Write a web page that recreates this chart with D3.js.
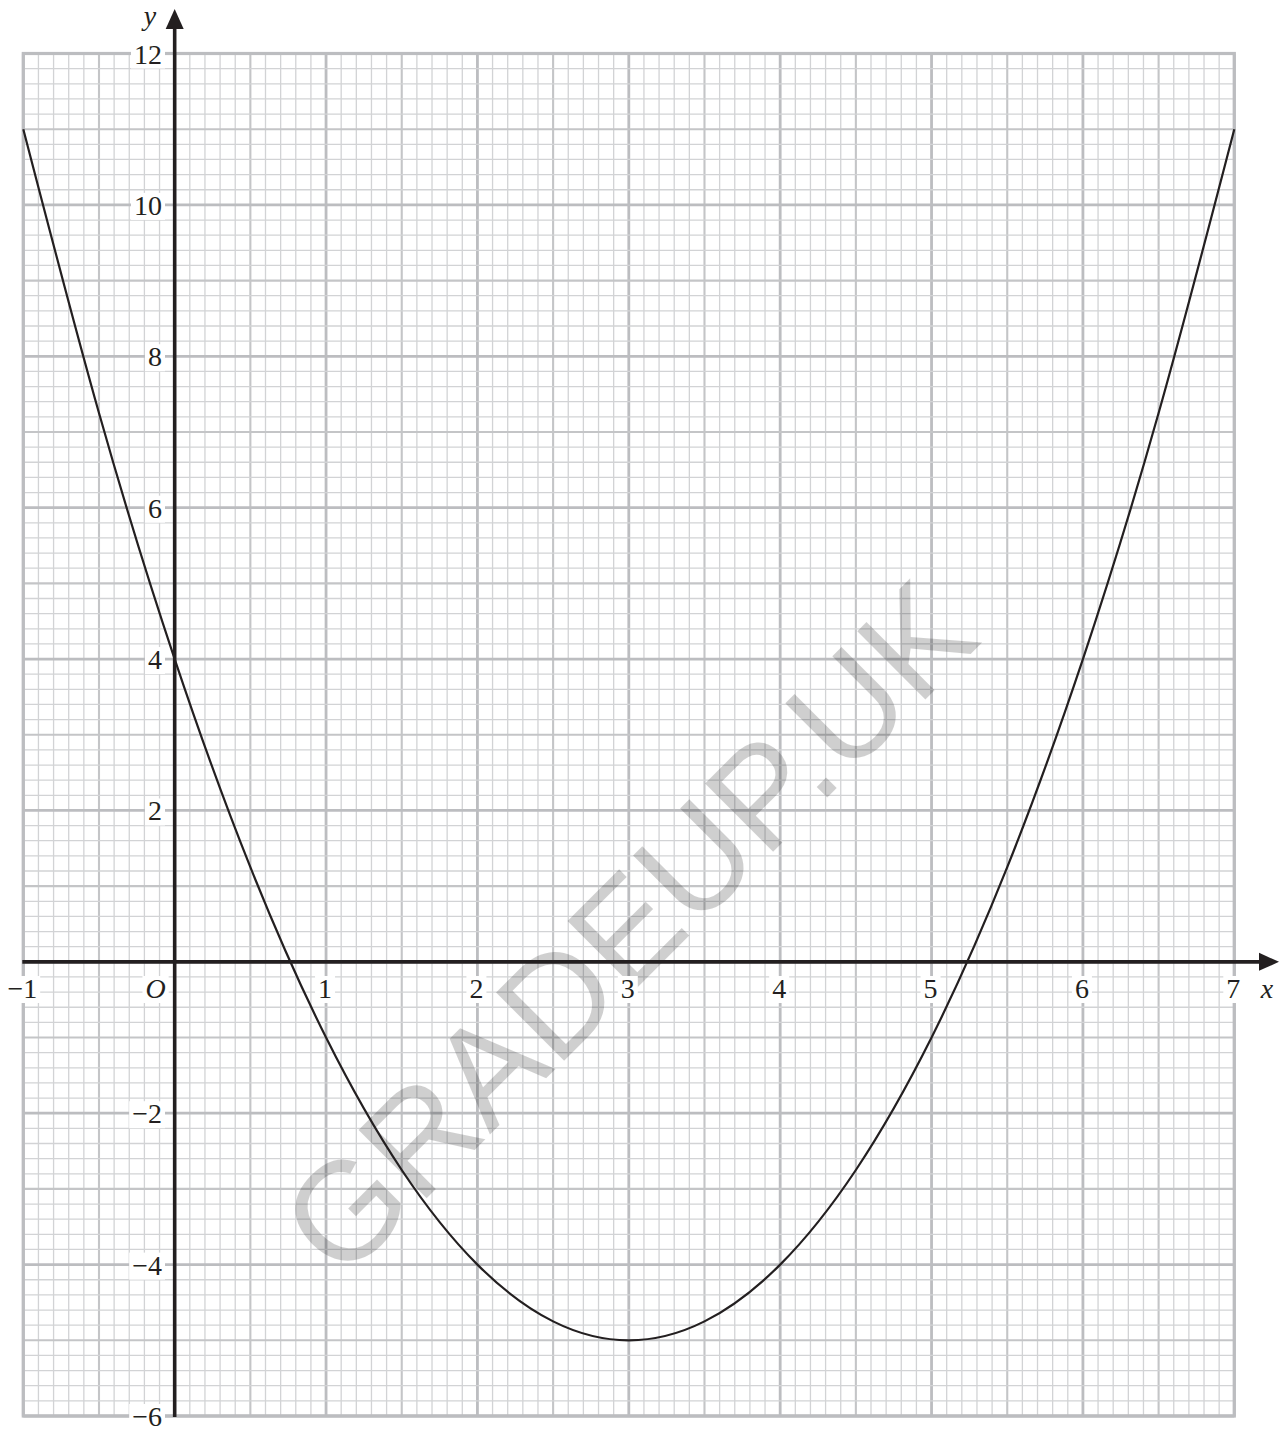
<!DOCTYPE html>
<html>
<head>
<meta charset="utf-8">
<script src="https://cdn.jsdelivr.net/npm/d3@7"></script>
<style>
  body { margin: 0; background: #fff; }
</style>
</head>
<body>
<div id="chart"></div>
<script>
// values
const curveX = [-1, -0.5, 0, 0.5, 1, 1.5, 2, 2.5, 3, 3.5, 4, 4.5, 5, 5.5, 6, 6.5, 7]
const curveY = [11, 7.25, 4, 1.25, -1, -2.75, -4, -4.75, -5, -4.75, -4, -2.75, -1, 1.25, 4, 7.25, 11]
const xTicks = [-1, 0, 1, 2, 3, 4, 5, 6, 7]
const xTickLabels = ["−1", "O", "1", "2", "3", "4", "5", "6", "7"]
const yTicks = [12, 10, 8, 6, 4, 2, -2, -4, -6]
const yTickLabels = ["12", "10", "8", "6", "4", "2", "−2", "−4", "−6"]

const serif = "'Liberation Serif', 'Times New Roman', Times, serif"

let svg = d3.select("#chart")
  .append("svg")
  .attr("width", 1286)
  .attr("height", 1436)

let x = d3.scaleLinear().domain([-1, 7]).range([23.3, 1234.3])
let y = d3.scaleLinear().domain([-6, 12]).range([1416, 53.5])

let grid = svg.append("g")

// graph paper: minor 0.1 in x / 0.2 in y, medium every 5, major every 10
function lineStyle(i) {
  if (i % 10 == 0) return {c: "#bcbdc0", w: 2.8}
  if (i % 5 == 0) return {c: "#c4c5c7", w: 2.1}
  return {c: "#d2d3d5", w: 1.3}
}
let order = d => d % 10 == 0 ? 2 : (d % 5 == 0 ? 1 : 0)
let vIdx = d3.range(0, 81).sort((a, b) => order(a) - order(b))
let hIdx = d3.range(0, 91).sort((a, b) => order(a) - order(b))

grid.selectAll(".v").data(vIdx).enter().append("line")
  .attr("x1", i => x(-1 + i / 10)).attr("x2", i => x(-1 + i / 10))
  .attr("y1", y(12)).attr("y2", y(-6))
  .attr("stroke", i => lineStyle(i).c)
  .attr("stroke-width", i => lineStyle(i).w)

grid.selectAll(".h").data(hIdx).enter().append("line")
  .attr("y1", j => y(-6 + j / 5)).attr("y2", j => y(-6 + j / 5))
  .attr("x1", x(-1)).attr("x2", x(7))
  .attr("stroke", j => lineStyle(j).c)
  .attr("stroke-width", j => lineStyle(j).w)

grid.append("rect")
  .attr("x", x(-1)).attr("y", y(12))
  .attr("width", x(7) - x(-1)).attr("height", y(-6) - y(12))
  .attr("fill", "none")
  .attr("stroke", "#bcbdc0")
  .attr("stroke-width", 3.2)

// watermark
svg.append("text")
  .attr("transform", "translate(628,928) rotate(-45)")
  .attr("text-anchor", "middle")
  .attr("dominant-baseline", "central")
  .style("font-family", "'Liberation Sans', Arial, sans-serif")
  .style("font-size", "140px")
  .attr("fill", "#000")
  .attr("fill-opacity", 0.19)
  .text("GRADEUP.UK")

// tick labels with white knock-out boxes
let labels = svg.append("g")

function addLabel(tx, ty, str, anchor, italic) {
  let t = labels.append("text")
    .attr("x", tx).attr("y", ty)
    .attr("text-anchor", anchor)
    .style("font-family", serif)
    .style("font-size", "28px")
    .style("font-style", italic ? "italic" : "normal")
    .attr("fill", "#231f20")
    .text(str)
  let b = t.node().getBBox()
  labels.insert("rect", "text")
    .attr("x", b.x - 3).attr("y", b.y + 3)
    .attr("width", b.width + 6).attr("height", b.height - 4)
    .attr("fill", "#fff")
}

yTicks.forEach((v, i) => addLabel(162, y(v) + 10, yTickLabels[i], "end", false))
xTicks.forEach((v, i) => {
  if (v == 0) addLabel(x(0) - 9, 998, xTickLabels[i], "end", true)
  else addLabel(x(v) - 1, 998, xTickLabels[i], "middle", false)
})

// axes
svg.append("line")
  .attr("x1", x(-1) - 1).attr("x2", 1262)
  .attr("y1", y(0)).attr("y2", y(0))
  .attr("stroke", "#231f20").attr("stroke-width", 3.6)
svg.append("path")
  .attr("d", `M1279,${y(0)} L1259,${y(0) - 9} L1259,${y(0) + 9} Z`)
  .attr("fill", "#231f20")

svg.append("line")
  .attr("x1", x(0)).attr("x2", x(0))
  .attr("y1", y(-6) + 1).attr("y2", 26)
  .attr("stroke", "#231f20").attr("stroke-width", 3.6)
svg.append("path")
  .attr("d", `M${x(0)},9 L${x(0) - 9},29 L${x(0) + 9},29 Z`)
  .attr("fill", "#231f20")

svg.append("text")
  .attr("x", 1267).attr("y", 998)
  .attr("text-anchor", "middle")
  .style("font-family", serif)
  .style("font-size", "28px").style("font-style", "italic")
  .attr("fill", "#231f20")
  .text("x")
svg.append("text")
  .attr("x", 150).attr("y", 25)
  .attr("text-anchor", "middle")
  .style("font-family", serif)
  .style("font-size", "28px").style("font-style", "italic")
  .attr("fill", "#231f20")
  .text("y")

// curve
let pts = curveX.map((v, i) => [v, curveY[i]])
svg.append("path")
  .datum(pts)
  .attr("d", d3.line().x(d => x(d[0])).y(d => y(d[1])).curve(d3.curveNatural))
  .attr("fill", "none")
  .attr("stroke", "#231f20")
  .attr("stroke-width", 2.2)
</script>
</body>
</html>
